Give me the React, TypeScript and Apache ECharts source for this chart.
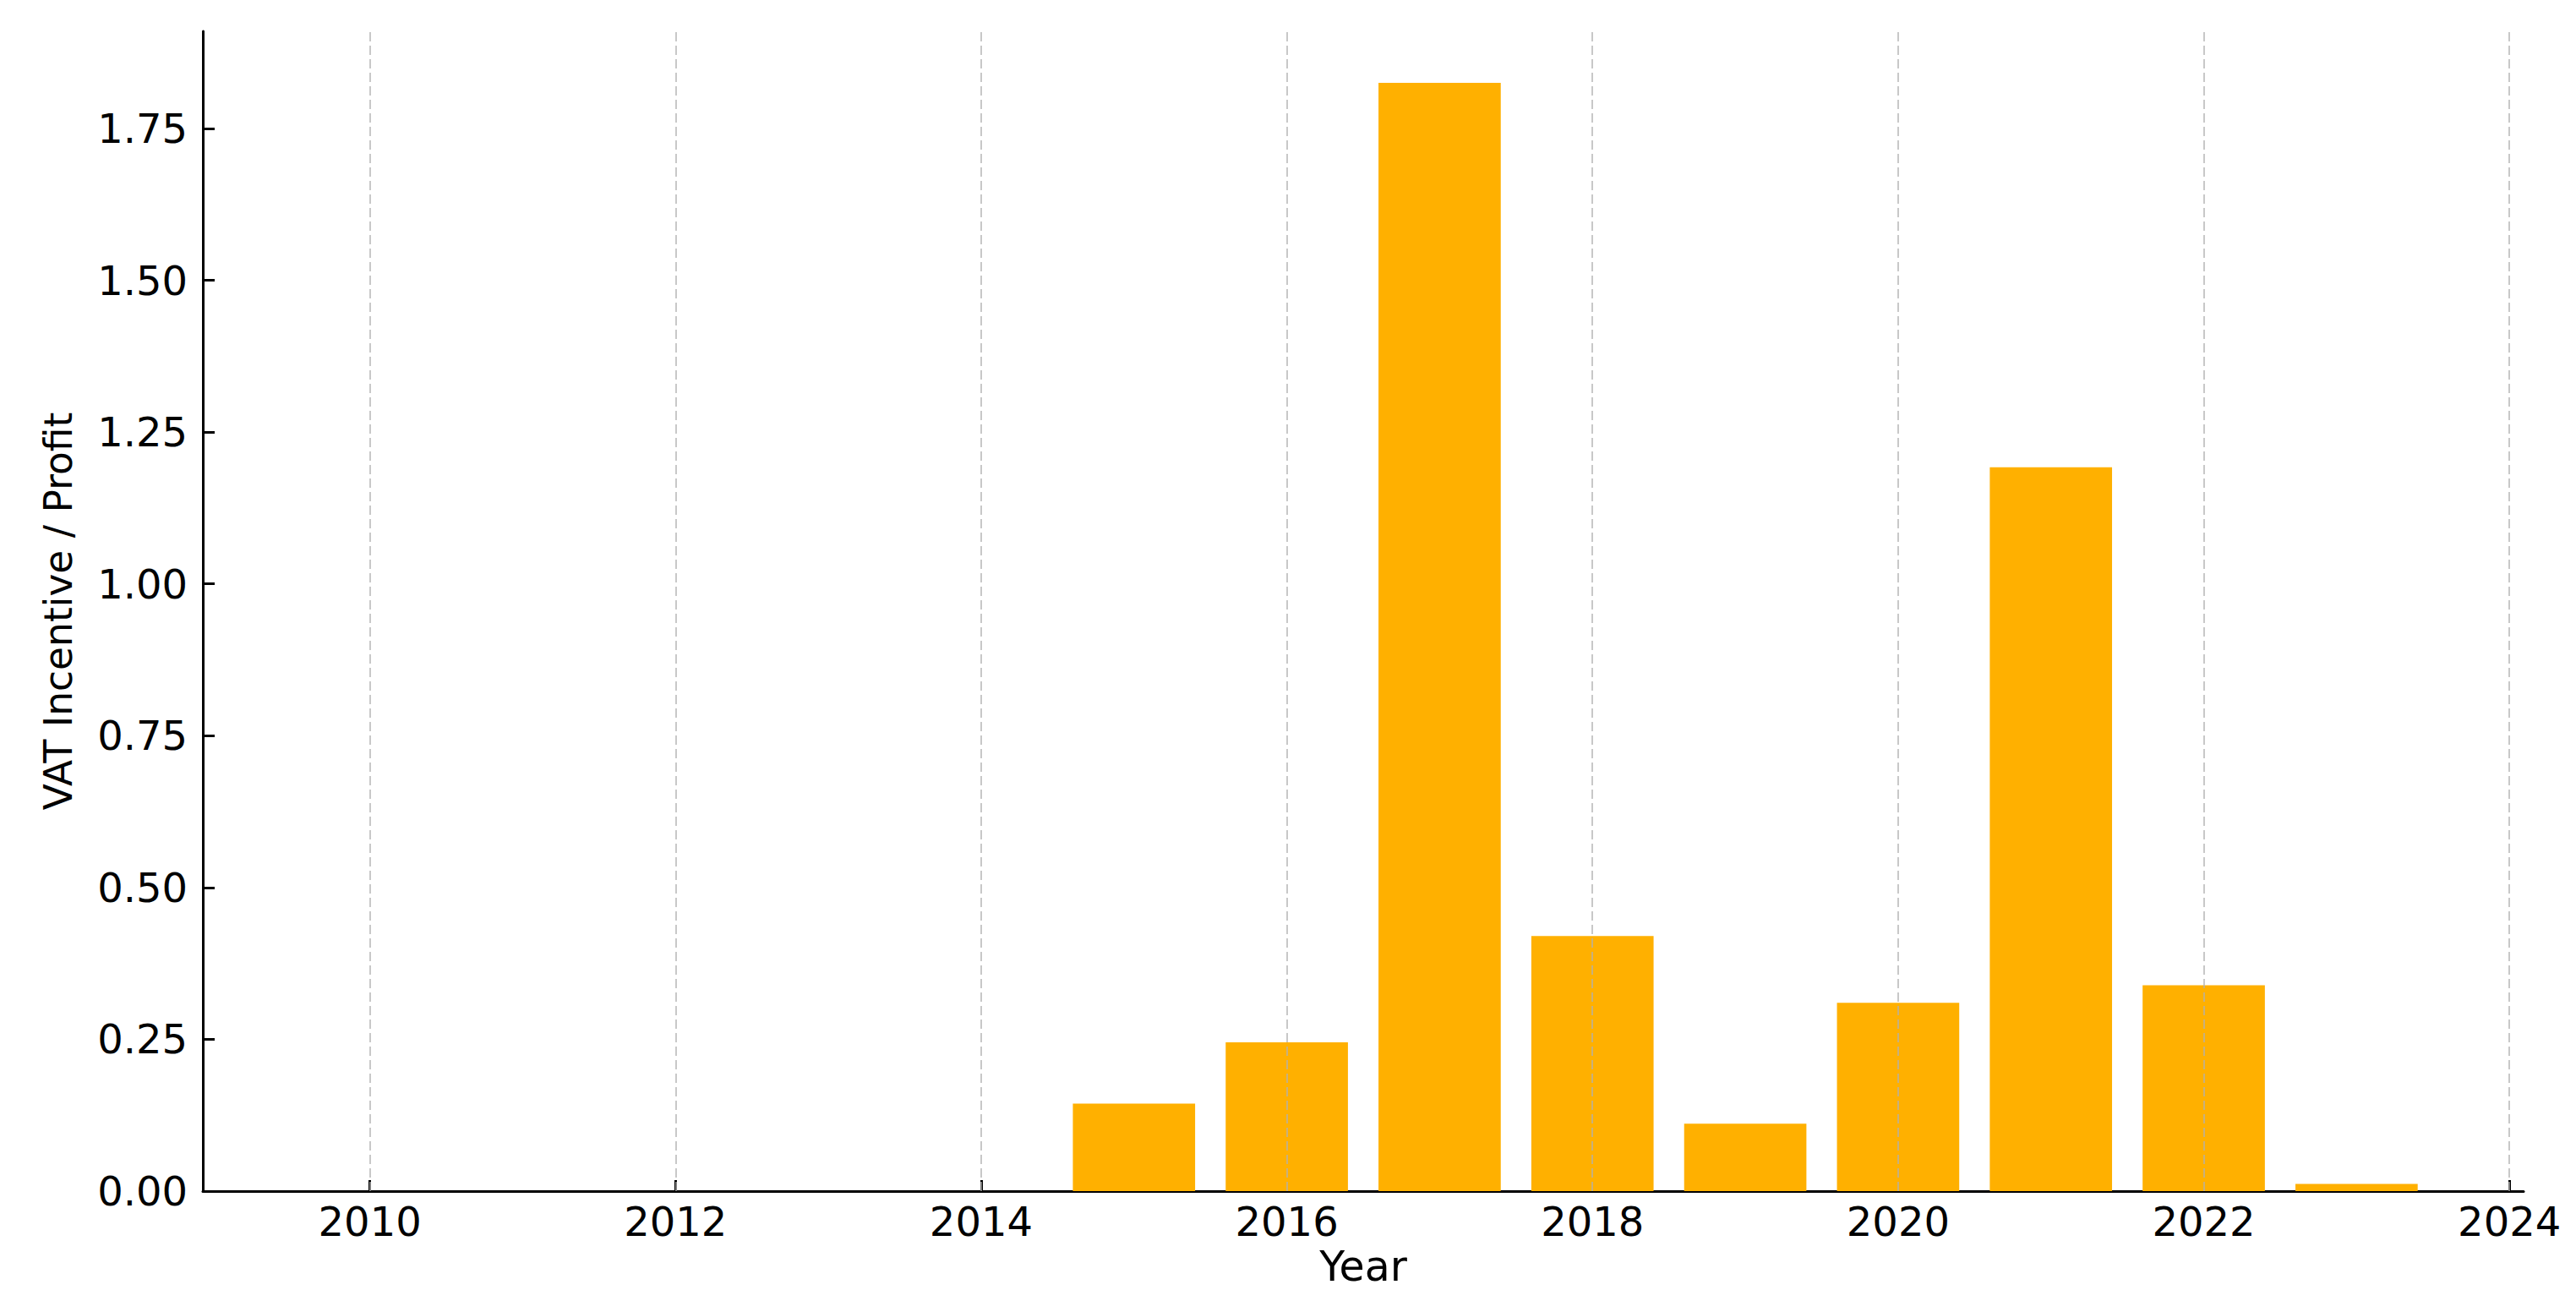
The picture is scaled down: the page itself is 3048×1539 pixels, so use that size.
import React, { useEffect, useRef } from "react";
import * as echarts from "echarts";

const years: number[] = [2010, 2011, 2012, 2013, 2014, 2015, 2016, 2017, 2018, 2019, 2020, 2021, 2022, 2023];
const values: number[] = [0, 0, 0, 0, 0, 0.144, 0.245, 1.825, 0.42, 0.111, 0.31, 1.192, 0.339, 0.012];
const xTickValues: number[] = [2010, 2012, 2014, 2016, 2018, 2020, 2022, 2024];
const yTickValues: number[] = [0, 0.25, 0.5, 0.75, 1.0, 1.25, 1.5, 1.75];

const X_MIN = 2008.907;
const X_MAX = 2024.093;
const Y_MAX = 1.91;

const FONT = "DejaVu Sans";

export default function App() {
  const ref = useRef<HTMLDivElement>(null);
  useEffect(() => {
    if (!ref.current) return;
    const chart = echarts.init(ref.current, undefined, { renderer: "svg" });
    chart.setOption({
      animation: false,
      backgroundColor: "#ffffff",
      grid: {
        left: 240,
        right: 62,
        top: 37,
        bottom: 130,
        containLabel: false,
        outerBoundsMode: "none",
      },
      xAxis: {
        type: "value",
        min: X_MIN,
        max: X_MAX,
        name: "Year",
        nameLocation: "middle",
        nameGap: 61,
        nameTextStyle: { fontFamily: FONT, fontSize: 49, color: "#000" },
        axisLine: { show: true, onZero: false, lineStyle: { color: "#000", width: 3 } },
        axisTick: {
          show: true,
          inside: true,
          length: 13,
          customValues: xTickValues,
          lineStyle: { color: "#000", width: 3 },
        },
        axisLabel: {
          show: true,
          customValues: xTickValues,
          margin: 12,
          fontFamily: FONT,
          fontSize: 48,
          color: "#000",
          formatter: (v: number) => String(Math.round(v)),
        },
        splitLine: { show: false },
      },
      yAxis: {
        type: "value",
        min: 0,
        max: Y_MAX,
        name: "VAT Incentive / Profit",
        nameLocation: "middle",
        nameGap: 148,
        nameTextStyle: { fontFamily: FONT, fontSize: 45.5, color: "#000" },
        axisLine: { show: true, lineStyle: { color: "#000", width: 3 } },
        axisTick: {
          show: true,
          inside: true,
          length: 14,
          customValues: yTickValues,
          lineStyle: { color: "#000", width: 3 },
        },
        axisLabel: {
          show: true,
          customValues: yTickValues,
          margin: 18,
          fontFamily: FONT,
          fontSize: 48,
          color: "#000",
          formatter: (v: number) => v.toFixed(2),
        },
        splitLine: { show: false },
      },
      series: [
        {
          type: "bar",
          data: years.map((y, i) => [y, values[i]]),
          barWidth: "80%",
          itemStyle: { color: "#FFB000" },
          z: 2,
          markLine: {
            silent: true,
            symbol: ["none", "none"],
            label: { show: false },
            lineStyle: { color: "rgba(176,176,176,0.7)", width: 2, type: [11, 5] },
            data: xTickValues.map((v) => ({ xAxis: v })),
            z: 3,
          },
        },
      ],
    });
    return () => chart.dispose();
  }, []);
  return (
    <div
      ref={ref}
      style={{ position: "fixed", left: 0, top: 0, width: "3048px", height: "1539px", background: "#fff" }}
    />
  );
}
